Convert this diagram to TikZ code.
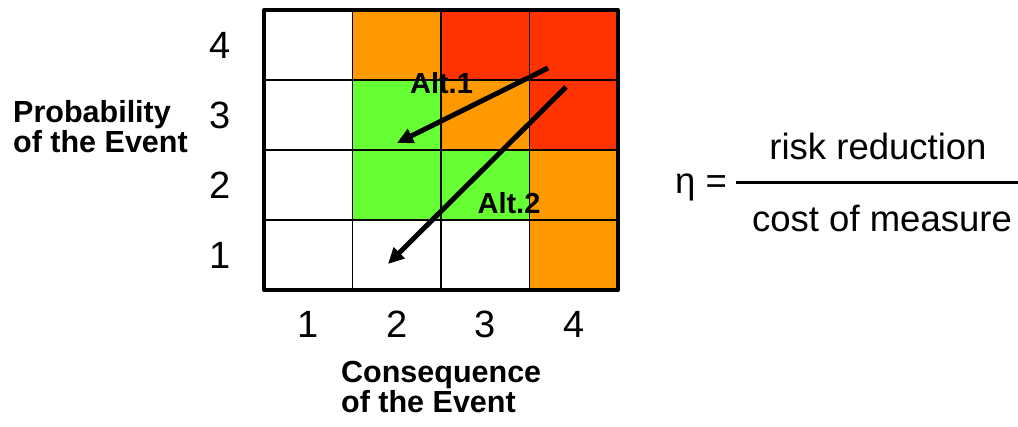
\documentclass[tikz,border=0pt]{standalone}
\usepackage{fontspec}
\setmainfont{Liberation Sans}
\usetikzlibrary{arrows.meta}
\definecolor{naranja}{HTML}{FF9900}
\definecolor{rojo}{HTML}{FF3300}
\definecolor{verde}{HTML}{66FF33}
\begin{document}
\begin{tikzpicture}[x=1pt, y=-1pt, line cap=round, line join=round,
  cifra/.style={font=\fontsize{38}{40}\selectfont, inner sep=0pt},
  rotulo/.style={font=\fontsize{30.5}{32}\selectfont\bfseries, inner sep=0pt, anchor=base west},
  alt/.style={font=\fontsize{29}{30}\selectfont\bfseries, inner sep=0pt, anchor=base},
  formula/.style={font=\fontsize{36.5}{40}\selectfont, inner sep=0pt, anchor=base},
  flecha/.style={line width=5pt, line cap=butt, -{Triangle[length=16pt,width=15pt]}}]
  \useasboundingbox (0,0) rectangle (1018,427);
  % la matriz de riesgo
  \begin{scope}[shift={(264,290)}, x=88.5pt, y=70pt]
    \foreach \c/\r/\col in {2/4/naranja, 3/4/rojo, 4/4/rojo, 2/3/verde, 3/3/naranja,
                            4/3/rojo, 2/2/verde, 3/2/verde, 4/2/naranja, 4/1/naranja}
      \fill[\col] (\c-1,\r-1) rectangle (\c,\r);
    \foreach \i in {1,2,3} {
      \draw[line width=1.3pt] (\i,0) -- (\i,4);
      \draw[line width=1.3pt] (0,\i) -- (4,\i);
    }
    \draw[line width=4pt, line cap=butt] (0,0) rectangle (4,4);
    % las cifras de los ejes
    \foreach \n in {1,...,4} {
      \node[cifra] (x\n) at (\n-0.5,-0.486) {\n};
      \node[cifra] (y\n) at (-0.497,\n-0.5) {\n};
    }
  \end{scope}
  % los rotulos de los ejes
  \node[rotulo] (prob) at (13,123) {Probability};
  \node[rotulo] (probev) at (13,153) {of the Event};
  \node[rotulo] (cons) at (341,383) {Consequence};
  \node[rotulo] (consev) at (341,413) {of the Event};
  % las dos alternativas
  \coordinate (ini1) at (548,68);  \coordinate (fin1) at (397,143);
  \coordinate (ini2) at (566,87);  \coordinate (fin2) at (388,264);
  \draw[flecha] (ini1) -- (fin1);
  \draw[flecha] (ini2) -- (fin2);
  \node[alt] (alt1) at (441.5,94) {Alt.1};
  \node[alt] (alt2) at (509,214) {Alt.2};
  % la eficiencia
  \node[formula, anchor=base west] (eta) at (675,194) {η =};
  \coordinate (fizq) at (736,183); \coordinate (fder) at (1018,183);
  \draw[line width=3pt, line cap=butt] (fizq) -- (fder);
  \node[formula] (num) at (878,160) {risk reduction};
  \node[formula] (den) at (882,232) {cost of measure};
\end{tikzpicture}
\end{document}
